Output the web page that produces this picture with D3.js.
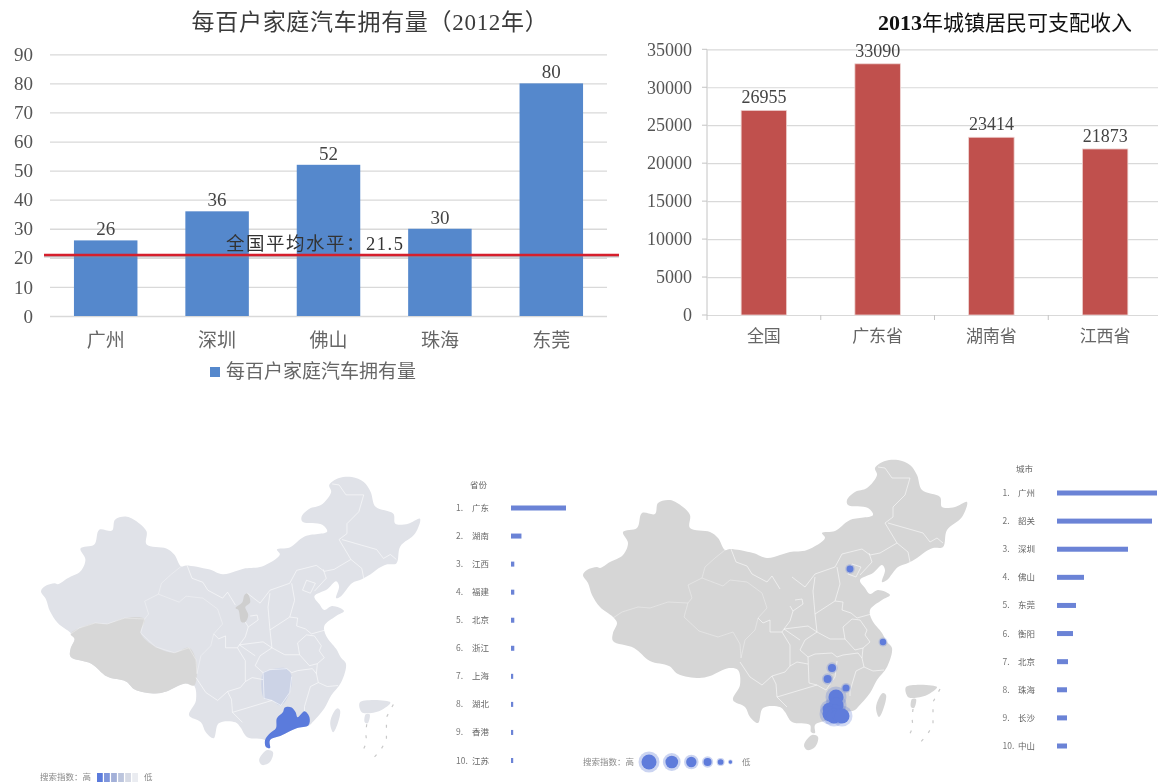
<!DOCTYPE html>
<html>
<head>
<meta charset="utf-8">
<script src="https://cdn.jsdelivr.net/npm/d3@7/dist/d3.min.js"></script>
<style>
  html, body { margin: 0; padding: 0; background: #fff; }
  svg { display: block; }
  text { font-family: "Liberation Serif", "Noto Sans CJK SC", serif; }
  .map text { font-family: "Noto Sans CJK SC", sans-serif; }
  .soft { filter: blur(0.45px); }
  .softer { filter: blur(0.6px); }
</style>
</head>
<body>
<svg id="chart" width="1158" height="782"></svg>
<script>
// 每百户家庭汽车拥有量
const carCities = ["广州", "深圳", "佛山", "珠海", "东莞"];
const carValues = [26, 36, 52, 30, 80];
const carTicks = [0, 10, 20, 30, 40, 50, 60, 70, 80, 90];
const carAverageLine = 21;

// 城镇居民可支配收入
const incomeRegions = ["全国", "广东省", "湖南省", "江西省"];
const incomeValues = [26955, 33090, 23414, 21873];
const incomeTicks = [0, 5000, 10000, 15000, 20000, 25000, 30000, 35000];

// 两张排行榜
const provinceNames = ["广东", "湖南", "江西", "福建", "北京", "浙江", "上海", "湖北", "香港", "江苏"];
const provinceIndex = [100, 19, 6, 6, 6, 6, 4, 4, 4, 4];
const cityNames = ["广州", "韶关", "深圳", "佛山", "东莞", "衡阳", "北京", "珠海", "长沙", "中山"];
const cityIndex = [100, 95, 71, 27, 19, 16, 11, 10, 10, 10];

// 图例
const legendShades = ["#5b7bdc", "#7f96dc", "#a3b0d8", "#bcc5dd", "#d6dae5", "#eaecf1"];
const legendLevels = [6, 5, 4, 3, 2, 1];

// 地图形状，单位是地图坐标
const chinaOutline = [[583,575],[587,570],[597,567],[600,568],[610,562],[623,555],[628,543],[623,532],[637,528],[642,513],[655,514],[658,503],[670,500],[683,507],[690,515],[690,528],[710,532],[718,538],[725,550],[730,549],[753,553],[767,558],[780,555],[790,552],[807,550],[825,538],[822,533],[835,531],[850,520],[873,515],[868,508],[848,505],[847,500],[855,492],[867,488],[877,475],[875,468],[885,461],[898,460],[910,465],[917,475],[922,490],[940,497],[942,507],[955,507],[967,502],[962,517],[947,530],[943,547],[933,548],[925,552],[917,558],[908,563],[898,567],[887,580],[882,582],[885,570],[882,565],[873,573],[860,580],[865,588],[870,594],[878,590],[890,595],[882,600],[870,610],[872,620],[882,633],[887,642],[892,648],[887,667],[877,680],[870,693],[858,707],[855,710],[842,713],[827,720],[815,725],[815,733],[811,732],[810,725],[792,722],[785,712],[780,707],[763,708],[758,723],[750,717],[745,707],[733,700],[740,685],[738,670],[729,668],[710,676],[699,678],[678,674],[669,666],[650,661],[634,648],[613,641],[613,633],[617,623],[613,617],[600,607],[592,595],[588,583]];
const tibetShape = [[613,618],[622,612],[638,607],[650,608],[668,602],[688,603],[684,617],[699,631],[718,637],[733,632],[740,644],[741,658],[738,670],[729,668],[710,676],[699,678],[678,674],[669,666],[650,661],[634,648],[613,641],[613,633],[617,623]];
const ningxiaShape = [[792,577],[795,586],[790,591],[793,599],[790,606],[786,606],[783,594],[780,592],[787,586],[789,579]];
const hunanShape = [[808,657],[815,654],[832,653],[837,661],[835,677],[826,690],[817,685],[809,683]];
const guangdongShape = [[811,732],[810,725],[815,718],[821,713],[822,703],[828,697],[830,692],[837,692],[841,697],[843,702],[850,696],[855,702],[854,710],[842,713],[827,720],[815,725],[815,733]];
const taiwanShape = [[883,693],[886,695],[883,710],[879,717],[876,708],[879,698]];
const hainanShape = [[812,735],[818,737],[815,747],[807,750],[804,745]];
const insetShape = [[906,687],[937,687],[927,695],[913,698],[908,697]];
const insetIslandShape = [[912,699],[916,699],[914,708],[911,707]];
const insetDashes = [
  [[913,709],[912,718],[913,727],[908,738]],
  [[940,689],[933,702],[933,725],[927,735],[918,745]]
];
// 西部省界很淡
const faintBorders = [
  [[613,618],[622,612],[638,607],[650,608],[668,602],[688,603]],
  [[688,603],[692,598],[688,585],[702,578],[705,567],[715,558],[725,550]],
  [[702,578],[723,586],[730,580],[747,582],[762,593],[767,608],[758,618]],
  [[688,603],[684,617],[699,631],[718,637],[733,632],[740,644],[741,658]],
  [[758,618],[755,630],[745,640],[741,658]]
];
const provinceBorders = [
  [[731,549],[736,562],[747,566],[752,574],[767,582],[772,576],[780,589]],
  [[792,577],[805,587],[815,574],[835,567],[842,554],[862,549],[870,555],[880,553],[897,543],[885,523],[893,517],[893,507],[905,495],[910,478],[892,478],[885,468],[878,467]],
  [[888,523],[902,527],[923,533],[930,542],[937,538],[943,543]],
  [[897,543],[908,552],[910,562]],
  [[869,553],[872,562],[860,575]],
  [[848,574],[852,564],[861,567],[856,577],[848,574]],
  [[815,577],[813,591],[815,614],[835,601],[843,602]],
  [[837,567],[840,584],[835,601]],
  [[843,602],[842,610],[851,613],[857,618],[875,613]],
  [[815,614],[817,632],[830,639],[845,639],[843,627],[852,619]],
  [[845,639],[855,650],[863,648],[870,642],[865,635],[867,630],[860,620],[852,619]],
  [[808,657],[815,654],[832,653],[837,657],[843,655],[858,653],[862,658],[864,667],[873,671],[884,670]],
  [[863,648],[862,658]],
  [[864,667],[856,671],[850,691],[850,696]],
  [[837,661],[835,677],[826,690],[817,685],[809,683],[808,657]],
  [[808,657],[800,650],[805,640],[817,632]],
  [[784,629],[808,626],[817,632]],
  [[808,664],[797,662],[790,666],[785,672],[772,676],[776,684],[777,697],[787,707]],
  [[777,697],[817,685]],
  [[740,662],[750,677],[762,685],[772,676]],
  [[758,618],[763,623],[770,620],[770,632],[782,632],[784,629],[790,621],[793,611],[803,604],[802,599],[795,600]],
  [[790,606],[793,611]],
  [[782,632],[790,645],[790,666]],
  [[784,629],[800,640]]
];

// 城市气泡：[名称, x, y, 等级]
const cityBubbles = [
  ["北京", 850, 569, 2.5],
  ["上海", 883, 642, 2.3],
  ["长沙", 832, 668, 3],
  ["衡阳", 827.6, 679, 3],
  ["赣州", 846, 688, 2.6],
  ["韶关", 836, 697, 6],
  ["清远", 836, 705, 6],
  ["肇庆", 829, 709, 5],
  ["广州", 835, 712, 6],
  ["佛山", 830, 714, 6],
  ["中山", 834, 716, 6],
  ["东莞", 838, 715, 5],
  ["深圳", 842, 716, 6]
];

const svg = d3.select("#chart");
const gridColor = "#d9d9d9";

// ---------- 左上：柱状图 ----------
function drawCarChart() {
  const g = svg.append("g").attr("class", "soft");
  const x = d3.scaleBand().domain(carCities).range([50, 607]).paddingInner(0.43).paddingOuter(0.215);
  const y = d3.scaleLinear().domain([0, 90]).range([316, 54.3]);

  g.append("text")
    .attr("x", 370).attr("y", 30)
    .attr("text-anchor", "middle")
    .attr("font-size", 23)
    .attr("letter-spacing", 0.7)
    .attr("fill", "#3a3a3a")
    .text("每百户家庭汽车拥有量（2012年）");

  const yAxis = g.append("g")
    .attr("transform", "translate(50,0)")
    .call(d3.axisLeft(y).tickValues(carTicks).tickSize(-557).tickPadding(17));
  yAxis.select(".domain").remove();
  yAxis.selectAll("line").attr("stroke", gridColor).attr("stroke-width", 1.3);
  yAxis.selectAll("text").attr("font-size", 19).attr("fill", "#555");

  g.selectAll(".car-bar")
    .data(carValues)
    .join("rect")
    .attr("class", "car-bar")
    .attr("x", (d, i) => x(carCities[i]))
    .attr("y", d => y(d))
    .attr("width", x.bandwidth())
    .attr("height", d => y(0) - y(d))
    .attr("fill", "#5588cc");

  g.selectAll(".car-label")
    .data(carValues)
    .join("text")
    .attr("class", "car-label")
    .attr("x", (d, i) => x(carCities[i]) + x.bandwidth() / 2)
    .attr("y", d => y(d) - 5)
    .attr("text-anchor", "middle")
    .attr("font-size", 19)
    .attr("fill", "#444")
    .text(d => d);

  g.selectAll(".car-cat")
    .data(carCities)
    .join("text")
    .attr("class", "car-cat")
    .attr("x", d => x(d) + x.bandwidth() / 2)
    .attr("y", 347)
    .attr("text-anchor", "middle")
    .attr("font-size", 19)
    .attr("fill", "#666")
    .text(d => d);

  // 全国平均线
  g.append("line")
    .attr("x1", 44).attr("x2", 619)
    .attr("y1", y(carAverageLine) + 1).attr("y2", y(carAverageLine) + 1)
    .attr("stroke", "#8a8f96").attr("stroke-width", 3).attr("opacity", 0.5);
  g.append("line")
    .attr("x1", 44).attr("x2", 619)
    .attr("y1", y(carAverageLine)).attr("y2", y(carAverageLine))
    .attr("stroke", "#d61f2c").attr("stroke-width", 2.6);
  g.append("text")
    .attr("x", 226).attr("y", 250)
    .attr("font-size", 18.5)
    .attr("letter-spacing", 1.5)
    .attr("fill", "#333")
    .text("全国平均水平：21.5");

  // 图例
  g.append("rect")
    .attr("x", 210).attr("y", 367).attr("width", 10).attr("height", 10)
    .attr("fill", "#5588cc");
  g.append("text")
    .attr("x", 226).attr("y", 378)
    .attr("font-size", 19)
    .attr("fill", "#666")
    .text("每百户家庭汽车拥有量");
}

// ---------- 右上：柱状图 ----------
function drawIncomeChart() {
  const g = svg.append("g").attr("class", "soft");
  const x = d3.scaleBand().domain(incomeRegions).range([707, 1162]).paddingInner(0.6).paddingOuter(0.3);
  const y = d3.scaleLinear().domain([0, 35000]).range([315, 49.3]);
  const halfGap = (x.step() - x.bandwidth()) / 2;

  const title = g.append("text")
    .attr("x", 878).attr("y", 30)
    .attr("font-size", 21)
    .attr("fill", "#111");
  title.append("tspan").attr("font-weight", "bold").attr("font-size", 22).text("2013");
  title.append("tspan").text("年城镇居民可支配收入");

  const yAxis = g.append("g")
    .attr("transform", "translate(707,0)")
    .call(d3.axisLeft(y).tickValues(incomeTicks).tickFormat(d3.format("d")).tickSize(-455).tickPadding(15));
  yAxis.selectAll("line").attr("stroke", gridColor).attr("stroke-width", 1.2);
  yAxis.select(".domain").attr("stroke", "#c4c4c4").attr("d", "M0,49.3V315");
  yAxis.selectAll("text").attr("font-size", 18).attr("fill", "#555");

  // 左侧短刻度
  g.selectAll(".income-mark")
    .data(incomeTicks)
    .join("line")
    .attr("class", "income-mark")
    .attr("x1", 702).attr("x2", 707)
    .attr("y1", d => y(d)).attr("y2", d => y(d))
    .attr("stroke", "#c4c4c4");

  // 底部分隔刻度
  g.selectAll(".income-sep")
    .data(incomeRegions)
    .join("line")
    .attr("class", "income-sep")
    .attr("x1", d => x(d) - halfGap)
    .attr("x2", d => x(d) - halfGap)
    .attr("y1", 315).attr("y2", 320)
    .attr("stroke", "#c4c4c4");

  g.selectAll(".income-bar")
    .data(incomeValues)
    .join("rect")
    .attr("class", "income-bar")
    .attr("x", (d, i) => x(incomeRegions[i]))
    .attr("y", d => y(d))
    .attr("width", x.bandwidth())
    .attr("height", d => y(0) - y(d))
    .attr("fill", "#c0504d")
    .attr("stroke", "#eed5d4")
    .attr("stroke-width", 0.8);

  g.selectAll(".income-label")
    .data(incomeValues)
    .join("text")
    .attr("class", "income-label")
    .attr("x", (d, i) => x(incomeRegions[i]) + x.bandwidth() / 2)
    .attr("y", d => y(d) - 7)
    .attr("text-anchor", "middle")
    .attr("font-size", 18)
    .attr("fill", "#444")
    .text(d => d);

  g.selectAll(".income-cat")
    .data(incomeRegions)
    .join("text")
    .attr("class", "income-cat")
    .attr("x", d => x(d) + x.bandwidth() / 2)
    .attr("y", 342)
    .attr("text-anchor", "middle")
    .attr("font-size", 17)
    .attr("fill", "#666")
    .text(d => d);
}

// ---------- 地图底图 ----------
function drawMap(g, box, landColor) {
  const mx = d3.scaleLinear().domain([583, 967]).range(box.x);
  const my = d3.scaleLinear().domain([459, 750]).range(box.y);
  const line = d3.line().x(d => mx(d[0])).y(d => my(d[1])); // 省界保留折线
  const area = d3.line().x(d => mx(d[0])).y(d => my(d[1])).curve(d3.curveCatmullRomClosed.alpha(0.5));

  g.append("path").attr("d", area(chinaOutline)).attr("fill", landColor);
  [taiwanShape, hainanShape, insetShape, insetIslandShape].forEach(s => {
    g.append("path").attr("d", area(s)).attr("fill", landColor);
  });
  insetDashes.forEach(s => {
    g.append("path").attr("d", line(s))
      .attr("fill", "none")
      .attr("stroke", "#c9c9c9")
      .attr("stroke-width", 1.2)
      .attr("stroke-dasharray", "3,8");
  });
  return { mx, my, area, line };
}

function drawBorders(g, m) {
  g.selectAll(".border")
    .data(provinceBorders)
    .join("path")
    .attr("class", "border")
    .attr("d", m.line)
    .attr("fill", "none")
    .attr("stroke", "#fff")
    .attr("stroke-width", 0.8)
    .attr("stroke-opacity", 0.7);
  g.selectAll(".faint-border")
    .data(faintBorders)
    .join("path")
    .attr("class", "faint-border")
    .attr("d", m.line)
    .attr("fill", "none")
    .attr("stroke", "#fff")
    .attr("stroke-width", 0.8)
    .attr("stroke-opacity", 0.4);
}

// ---------- 排行榜 ----------
function drawRanking(g, cfg) {
  const row = d3.scalePoint()
    .domain(d3.range(cfg.names.length))
    .range(cfg.rows);
  const w = d3.scaleLinear().domain([0, 100]).range([0, cfg.barMax]);

  g.append("text")
    .attr("x", cfg.nameX - 2).attr("y", cfg.headY)
    .attr("font-size", 8.5)
    .attr("fill", "#666")
    .text(cfg.head);

  const rows = g.selectAll(".rank-row")
    .data(cfg.names)
    .join("g")
    .attr("class", "rank-row")
    .attr("transform", (d, i) => `translate(0,${row(i)})`);
  rows.append("text")
    .attr("x", cfg.rankX).attr("y", 3)
    .attr("font-size", 8.5)
    .attr("fill", "#777")
    .text((d, i) => `${i + 1}.`);
  rows.append("text")
    .attr("x", cfg.nameX).attr("y", 3)
    .attr("font-size", 8.5)
    .attr("fill", "#666")
    .text(d => d);
  rows.append("rect")
    .attr("x", cfg.barX).attr("y", -2.5)
    .attr("width", (d, i) => w(cfg.values[i]))
    .attr("height", 5)
    .attr("fill", "#6b83d6");
}

// ---------- 左下：省份 ----------
function drawProvinceMap() {
  const g = svg.append("g").attr("class", "map softer");
  const m = drawMap(g, { x: [41, 420], y: [476, 765] }, "#e0e2e8");
  g.append("path").attr("d", m.area(tibetShape)).attr("fill", "#d7d7d7");
  g.append("path").attr("d", m.area(ningxiaShape)).attr("fill", "#cfcfcf");
  g.append("path").attr("d", m.area(hunanShape)).attr("fill", "#ccd3e6");
  drawBorders(g, m);
  g.append("path").attr("d", m.area(guangdongShape)).attr("fill", "#5b7bdc");

  drawRanking(g, {
    head: "省份", names: provinceNames, values: provinceIndex,
    rows: [508, 760.5], headY: 488, rankX: 456, nameX: 472, barX: 511, barMax: 55
  });

  // 图例
  const band = d3.scaleBand().domain(legendShades).range([97, 138]).paddingInner(0.18);
  g.selectAll(".shade")
    .data(legendShades)
    .join("rect")
    .attr("class", "shade")
    .attr("x", d => band(d)).attr("y", 773)
    .attr("width", band.bandwidth()).attr("height", 9)
    .attr("fill", d => d);
  g.append("text").attr("x", 40).attr("y", 780).attr("font-size", 8.5).attr("fill", "#888").text("搜索指数：高");
  g.append("text").attr("x", 144).attr("y", 780).attr("font-size", 8.5).attr("fill", "#888").text("低");
}

// ---------- 右下：城市 ----------
function drawCityMap() {
  const g = svg.append("g").attr("class", "map softer");
  const m = drawMap(g, { x: [583, 967], y: [459, 750] }, "#d6d6d6");
  drawBorders(g, m);

  const r = d3.scaleLinear().domain([1, 6]).range([1.7, 7.5]);
  const haloRatio = 1.4;

  const bubbles = g.selectAll(".bubble")
    .data(cityBubbles)
    .join("g")
    .attr("class", "bubble")
    .attr("transform", d => `translate(${m.mx(d[1])},${m.my(d[2])})`);
  bubbles.append("circle")
    .attr("r", d => r(d[3]) * haloRatio)
    .attr("fill", "#6b83d6").attr("opacity", 0.3);
  // 实心部分最后统一画，避免光晕盖住
  g.selectAll(".bubble-core")
    .data(cityBubbles)
    .join("circle")
    .attr("class", "bubble-core")
    .attr("cx", d => m.mx(d[1])).attr("cy", d => m.my(d[2]))
    .attr("r", d => r(d[3]))
    .attr("fill", "#5f7cdb");

  drawRanking(g, {
    head: "城市", names: cityNames, values: cityIndex,
    rows: [493, 746], headY: 472, rankX: 1002.5, nameX: 1018, barX: 1057, barMax: 100
  });

  // 气泡图例，从最大气泡开始向右排
  const gap = 3.4;
  let cx = 649;
  const legend = legendLevels.map((level, i) => {
    if (i > 0) cx += r(legendLevels[i - 1]) * haloRatio + r(level) * haloRatio + gap;
    return { level, cx };
  });
  g.selectAll(".legend-halo")
    .data(legend)
    .join("circle")
    .attr("class", "legend-halo")
    .attr("cx", d => d.cx).attr("cy", 762)
    .attr("r", d => r(d.level) * haloRatio)
    .attr("fill", "#6b83d6").attr("opacity", 0.35);
  g.selectAll(".legend-core")
    .data(legend)
    .join("circle")
    .attr("class", "legend-core")
    .attr("cx", d => d.cx).attr("cy", 762)
    .attr("r", d => r(d.level))
    .attr("fill", "#5f7cdb");
  g.append("text").attr("x", 583).attr("y", 765).attr("font-size", 8.5).attr("fill", "#888").text("搜索指数：高");
  g.append("text").attr("x", 742).attr("y", 765).attr("font-size", 8.5).attr("fill", "#888").text("低");
}

drawCarChart();
drawIncomeChart();
drawProvinceMap();
drawCityMap();
</script>
</body>
</html>
